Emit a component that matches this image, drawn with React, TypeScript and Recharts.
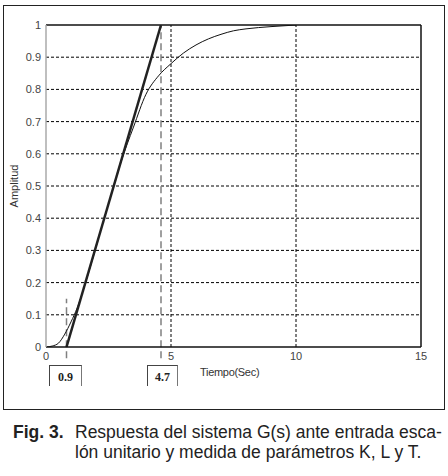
import React from "react";
import {
    LineChart,
    Line,
    XAxis,
    YAxis,
    ReferenceLine,
} from "recharts";

// step response
const responseTime = [0, 0.25, 0.5, 0.75, 1.0, 1.25, 1.5, 2.0, 2.5, 3.0, 3.5, 4.0, 4.5, 5.0, 5.5, 6.0, 6.5, 7.0, 7.5, 8.0, 9.0, 10];
const responseAmp = [0, 0.003, 0.012, 0.04, 0.078, 0.122, 0.18, 0.31, 0.445, 0.575, 0.683, 0.785, 0.842, 0.88, 0.913, 0.938, 0.957, 0.971, 0.982, 0.988, 0.995, 1.0];

// tangent through the inflection point, as drawn (L .. L+T)
const tangentTime = [0.82, 4.6];
const tangentAmp = [0, 1];

const xTicks = [0, 5, 10, 15];
const yTicks = [0, 0.1, 0.2, 0.3, 0.4, 0.5, 0.6, 0.7, 0.8, 0.9, 1];
const gridX = [5, 10];
const gridY = [0.1, 0.2, 0.3, 0.4, 0.5, 0.6, 0.7, 0.8, 0.9];
const markLabels = ["0.9", "4.7"];

const response = responseTime.map((x, i) => ({ x, y: responseAmp[i] }));
const tangent = tangentTime.map((x, i) => ({ x, y: tangentAmp[i] }));

const sans = "'Liberation Sans', Arial, sans-serif";
const tickStyle = { fontFamily: sans, fontSize: 11, fill: "#444" };

const Box: React.FC<{ left: number; width: number; label: string }> = ({ left, width, label }) => (
    <div
        style={{
            position: "absolute",
            left,
            top: 365,
            width,
            height: 20,
            borderTop: "1px solid #444",
            borderLeft: "1.5px solid #444",
            borderRight: "1px solid #777",
            fontFamily: "'Liberation Serif', 'DejaVu Serif', serif",
            fontWeight: "bold",
            fontSize: 12,
            color: "#222",
            textAlign: "center",
            lineHeight: "22px",
        }}
    >
        {label}
    </div>
);

export default function App() {
    return (
        <div style={{ position: "absolute", left: 0, top: 0, width: 448, height: 476, background: "#fff" }}>
            <div
                style={{
                    position: "absolute",
                    left: 3,
                    top: 5,
                    width: 440,
                    height: 403,
                    border: "1.5px solid #222",
                }}
            />
            <div style={{ position: "absolute", left: 0, top: 0 }}>
                <LineChart
                    width={448}
                    height={420}
                    margin={{ top: 25, right: 27, left: 6, bottom: 43 }}
                >
                    <XAxis
                        type="number"
                        dataKey="x"
                        domain={[0, 15]}
                        ticks={xTicks}
                        tickLine={false}
                        tickSize={3}
                        tickMargin={2}
                        height={30}
                        axisLine={{ stroke: "#111", strokeWidth: 1.5 }}
                        tick={tickStyle}
                        allowDataOverflow
                    />
                    <YAxis
                        type="number"
                        dataKey="y"
                        domain={[0, 1]}
                        ticks={yTicks}
                        tickLine={false}
                        tickSize={3}
                        tickMargin={2}
                        width={40}
                        axisLine={{ stroke: "#aaa", strokeWidth: 1.5 }}
                        tick={tickStyle}
                        tickFormatter={(v: number) => String(v)}
                        allowDataOverflow
                    />
                    {gridY.map((v) => (
                        <ReferenceLine key={`gy${v}`} y={v} stroke="#000" strokeDasharray="3 2" />
                    ))}
                    {gridX.map((v) => (
                        <ReferenceLine key={`gx${v}`} x={v} stroke="#000" strokeDasharray="3 2" />
                    ))}
                    <ReferenceLine y={1} stroke="#111" strokeWidth={1.5} />
                    <ReferenceLine x={15} stroke="#111" strokeWidth={1.5} />
                    <ReferenceLine
                        segment={[{ x: tangentTime[0], y: -0.035 }, { x: tangentTime[0], y: 0.15 }]}
                        stroke="#808080"
                        strokeWidth={1.5}
                        strokeDasharray="7 4"
                        ifOverflow="visible"
                    />
                    <ReferenceLine
                        segment={[{ x: tangentTime[1], y: -0.035 }, { x: tangentTime[1], y: 1 }]}
                        stroke="#808080"
                        strokeWidth={1.5}
                        strokeDasharray="7 4"
                        ifOverflow="visible"
                    />
                    <Line
                        data={response}
                        dataKey="y"
                        type="monotone"
                        stroke="#111"
                        strokeWidth={1}
                        dot={false}
                        isAnimationActive={false}
                    />
                    <Line
                        data={tangent}
                        dataKey="y"
                        type="linear"
                        stroke="#222"
                        strokeWidth={2.5}
                        dot={false}
                        isAnimationActive={false}
                    />
                </LineChart>
            </div>
            <div
                style={{
                    position: "absolute",
                    left: 14,
                    top: 186,
                    transform: "translate(-50%, -50%) rotate(-90deg)",
                    fontFamily: sans,
                    fontSize: 11,
                    color: "#333",
                    whiteSpace: "nowrap",
                }}
            >
                Amplitud
            </div>
            <div
                style={{
                    position: "absolute",
                    left: 200,
                    top: 366,
                    fontFamily: sans,
                    fontSize: 11,
                    letterSpacing: -0.3,
                    color: "#333",
                    whiteSpace: "nowrap",
                }}
            >
                Tiempo(Sec)
            </div>
            <Box left={49} width={31} label={markLabels[0]} />
            <Box left={147} width={29} label={markLabels[1]} />
            <div
                style={{
                    position: "absolute",
                    left: 13,
                    top: 422,
                    fontFamily: sans,
                    fontSize: 17.5,
                    color: "#222",
                    lineHeight: "20px",
                    whiteSpace: "nowrap",
                }}
            >
                <span style={{ fontWeight: "bold", display: "inline-block", width: 62 }}>Fig. 3.</span>
                Respuesta del sistema G(s) ante entrada esca-
                <br />
                <span style={{ display: "inline-block", width: 62 }} />
                lón unitario y medida de parámetros K, L y T.
            </div>
        </div>
    );
}
